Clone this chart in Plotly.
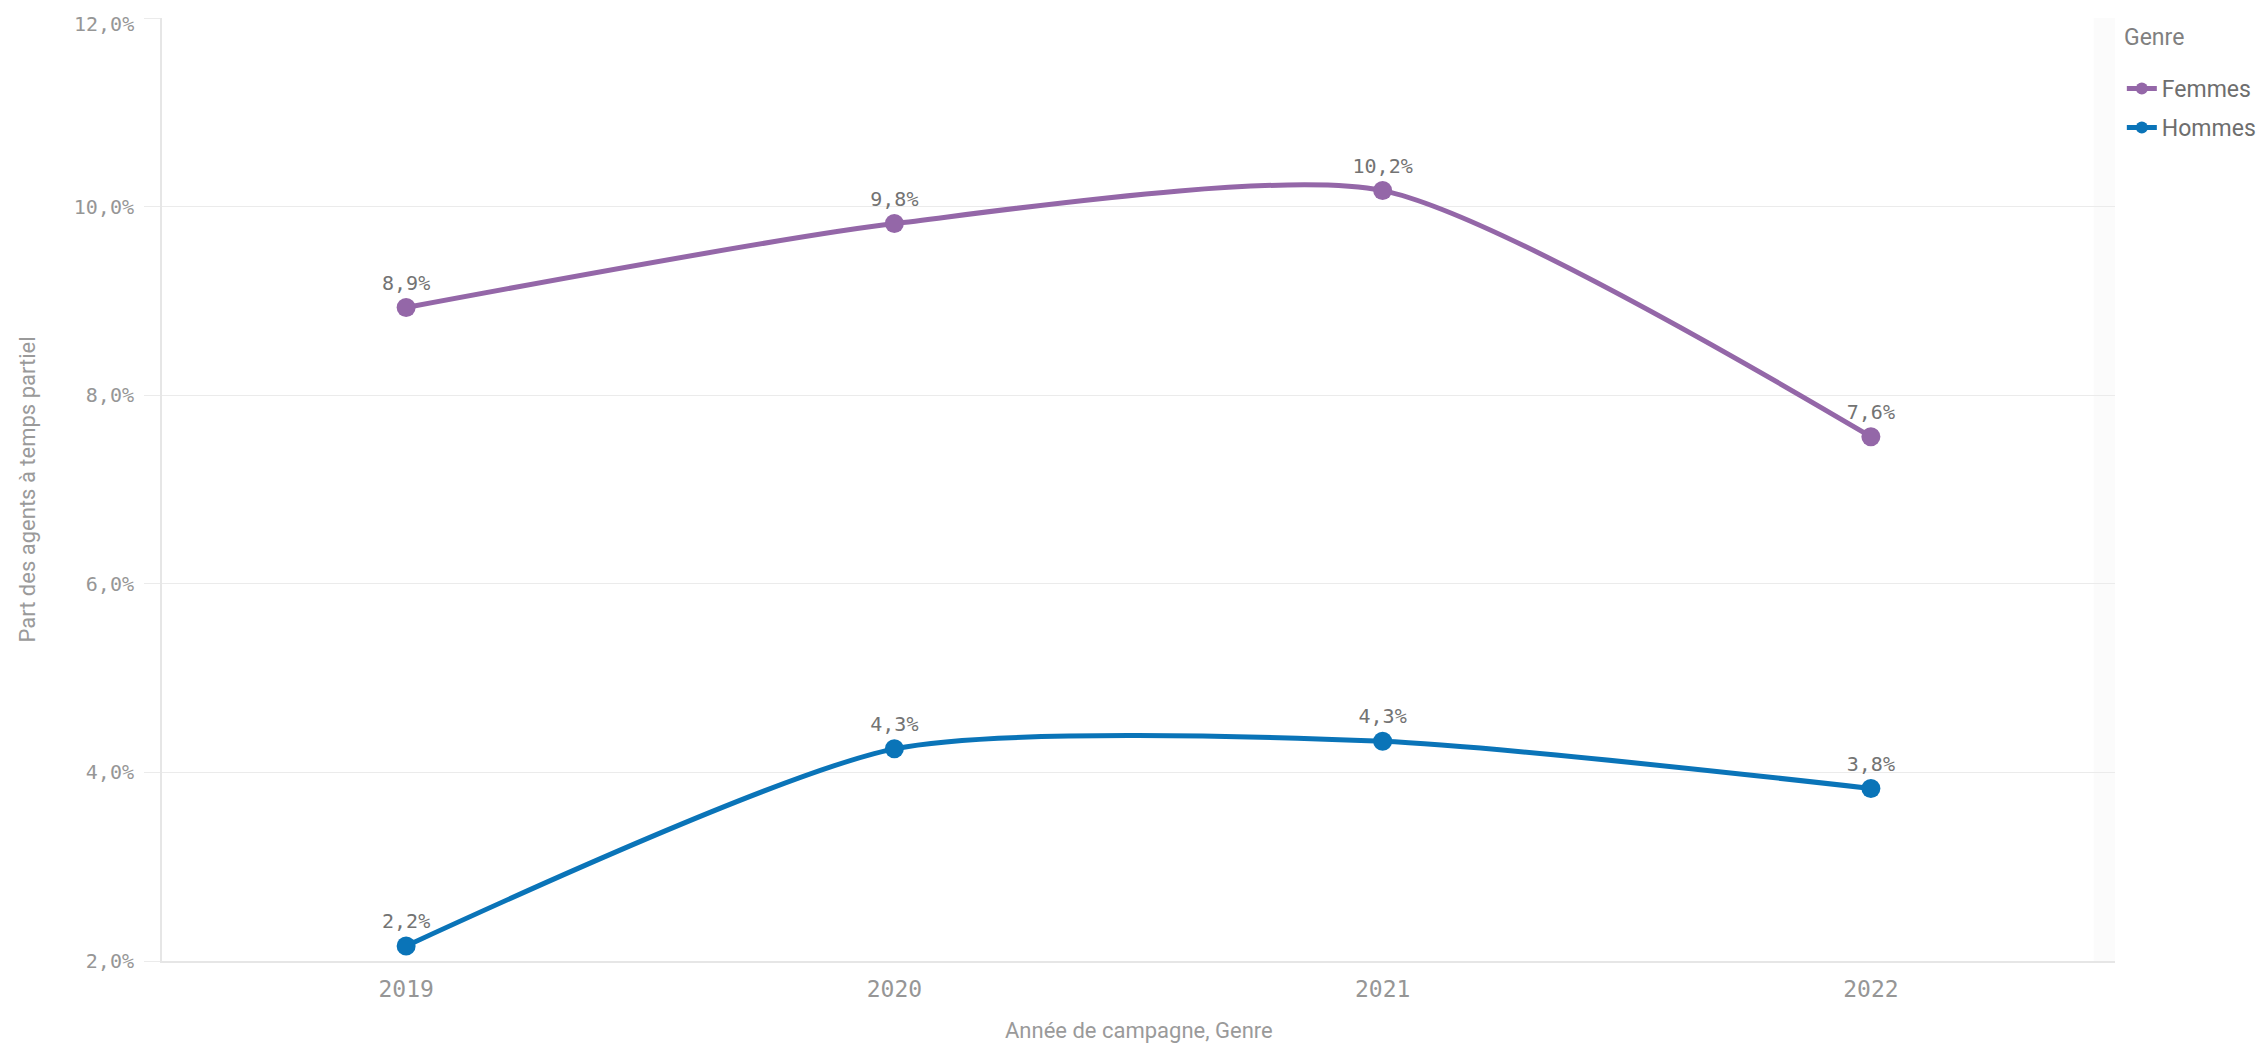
import plotly.graph_objects as go

years = ["2019", "2020", "2021", "2022"]
femmes = [8.93, 9.82, 10.17, 7.56]
hommes = [2.16, 4.25, 4.33, 3.83]
series_names = ["Femmes", "Hommes"]
colors = ["#9467a8", "#0a74b8"]
y_ticks = [2, 4, 6, 8, 10, 12]
legend_title = "Genre"
x_title = "Année de campagne, Genre"
y_title = "Part des agents à temps partiel"

mono = "DejaVu Sans Mono"
sans = "Roboto"
tick_grey = "#969696"
title_grey = "#9a9a9a"

def fmt(v):
    return f"{v:.1f}%".replace(".", ",")

fig = go.Figure()
for name, vals, col in zip(series_names, [femmes, hommes], colors):
    fig.add_trace(go.Scatter(
        x=years, y=vals, name=name, legendgroup=name,
        mode="lines+markers+text",
        line=dict(color=col, width=5, shape="spline", smoothing=0.65),
        marker=dict(color=col, size=19),
        texttemplate="%{y:.1f}%",
        textposition="top center",
        textfont=dict(family=mono, size=20, color="#737373"),
        cliponaxis=False,
    ))

fig.add_shape(type="rect", xref="paper", yref="paper", x0=0.989, x1=1, y0=0, y1=1,
              fillcolor="rgba(0,0,0,0.015)", line=dict(width=0), layer="below")

# top tick label drawn slightly inside the plot, as in the reference
fig.add_annotation(x=0, xref="paper", xanchor="right", xshift=-26,
                   y=y_ticks[-1], yref="y", yanchor="middle", yshift=-6,
                   text=fmt(y_ticks[-1]), showarrow=False,
                   font=dict(family=mono, size=20, color=tick_grey))
fig.add_annotation(x=1.0036, xref="paper", xanchor="left",
                   y=0.979, yref="paper", yanchor="middle",
                   text=legend_title, showarrow=False,
                   font=dict(family=sans, size=23, color="#808080"))
fig.add_annotation(x=0.5, xref="paper", xanchor="center",
                   y=-0.089, yref="paper", yanchor="bottom",
                   text=x_title, showarrow=False,
                   font=dict(family=sans, size=22, color=title_grey))

tick_text = [fmt(v) for v in y_ticks[:-1]] + [""]

fig.update_layout(
    width=2264, height=1043,
    margin=dict(l=154, r=157, t=10, b=90),
    plot_bgcolor="white", paper_bgcolor="white",
    separators=", ",
    showlegend=True,
    legend=dict(
        x=1.0035, xanchor="left", y=0.948, yanchor="top",
        font=dict(family=sans, size=23, color="#6e6e6e"),
        itemwidth=30, itemsizing="constant",
        traceorder="grouped", tracegroupgap=6,
        bgcolor="rgba(0,0,0,0)",
    ),
    xaxis=dict(
        type="category", range=[-0.5, 3.5],
        showgrid=False, showline=True, linecolor="#e6e6e6", linewidth=2,
        ticks="", ticklabelstandoff=6,
        tickfont=dict(family=mono, size=23, color=tick_grey),
        automargin=False,
    ),
    yaxis=dict(
        range=[2, 12.0001], tickvals=y_ticks, ticktext=tick_text,
        showgrid=True, gridcolor="#ebebeb", gridwidth=1,
        showline=True, linecolor="#e6e6e6", linewidth=2,
        ticks="outside", ticklen=16, tickcolor="#ebebeb",
        ticklabelstandoff=6,
        zeroline=False, automargin=False,
        tickfont=dict(family=mono, size=20, color=tick_grey),
        title=dict(text=y_title, font=dict(family=sans, size=22, color=title_grey), standoff=32),
    ),
)

fig.write_html("out.html")
